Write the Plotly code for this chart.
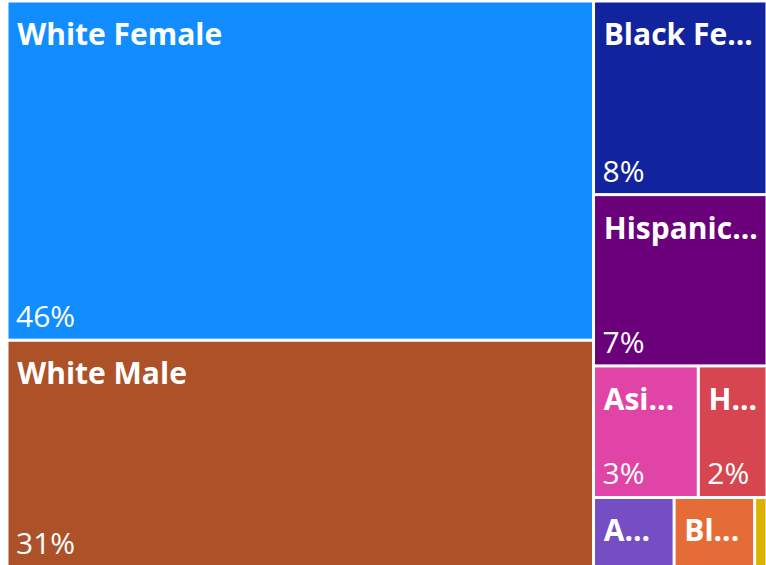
import plotly.graph_objects as go

groups = ["White Female", "White Male", "Black Female", "Hispanic Female",
          "Asian Female", "Hispanic Male", "Asian Male", "Black Male", "Other"]
values = [46.2, 30.9, 7.8, 6.9, 3.2, 2.1, 1.3, 1.3, 0.2]
# what the tiles show (long names get cut off with an ellipsis)
shown = ["White Female", "White Male", "Black Fe...", "Hispanic...",
         "Asi...", "H...", "A...", "Bl...", ""]
# the small bottom tiles have no room for the percentage
show_pct = [True, True, True, True, True, True, False, False, False]
colors = ["#118DFF", "#AD5129", "#12239E", "#6B007B",
          "#E044A7", "#D64550", "#744EC2", "#E66C37", "#D9B300"]

FONT = "Open Sans"
SIZE = 30
LEAD = "&#8201;"  # thin space, pushes the text a bit off the tile edge
# a taller thin space in front of the names moves them a little lower in the tile
LEAD_TOP = "<span style='font-size:37px'>&#8201;</span>"

total = sum(values)
pct = [f"{v / total:.0%}" if s else "" for v, s in zip(values, show_pct)]

common = dict(
    labels=groups,
    parents=[""] * len(groups),
    values=values,
    sort=True,
    tiling=dict(packing="squarify", squarifyratio=1.618, pad=2),
    pathbar=dict(visible=False),
    domain=dict(x=[0, 1], y=[0, 1]),
    hoverinfo="label+value+percent root",
)
no_pad = dict(t=0, l=0, r=0, b=0)

fig = go.Figure()

# the tiles with the bold names at the top left
fig.add_trace(go.Treemap(
    **common,
    text=[LEAD_TOP + "<b>" + s + "</b>" if s else "" for s in shown],
    texttemplate="%{text}",
    textposition="top left",
    textfont=dict(family=FONT, size=SIZE, color="white"),
    marker=dict(colors=colors, line=dict(color="white", width=1), pad=no_pad),
))

# same layout again, see-through, carrying the percentages at the bottom left
fig.add_trace(go.Treemap(
    **common,
    text=[LEAD + p if p else "" for p in pct],
    texttemplate="%{text}",
    textposition="bottom left",
    textfont=dict(family=FONT, size=SIZE, color="white"),
    marker=dict(colors=["rgba(0,0,0,0)"] * len(groups),
                line=dict(color="rgba(0,0,0,0)", width=0), pad=no_pad),
))

fig.update_layout(
    width=766, height=566,
    margin=dict(l=8, r=0, t=2, b=0),
    paper_bgcolor="white",
    font=dict(family=FONT),
    showlegend=False,
)

fig.write_html(
    "out.html",
    config={"displayModeBar": False},
    post_script="document.body.style.margin='0';document.body.style.overflow='hidden';",
)
